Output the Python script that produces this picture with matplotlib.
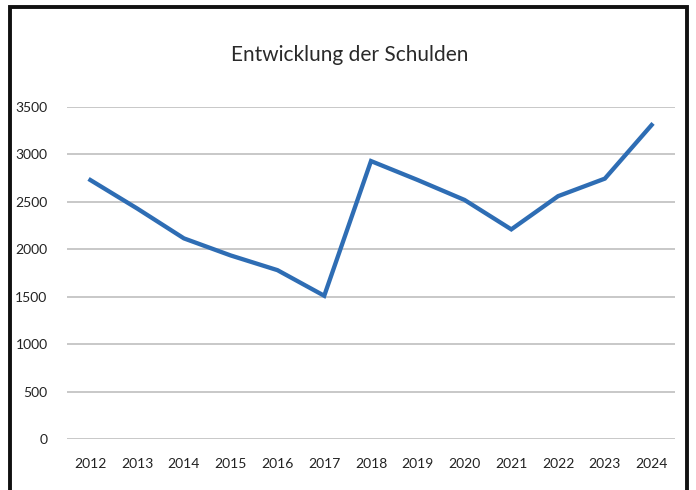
"""Line chart: Entwicklung der Schulden 2012-2024."""

from matplotlib import pyplot as plt
from matplotlib.patches import Rectangle

# Data.
YEARS = [2012, 2013, 2014, 2015, 2016, 2017, 2018,
         2019, 2020, 2021, 2022, 2023, 2024]
DEBT = [2730, 2430, 2115, 1935, 1780, 1510, 2930,
        2730, 2520, 2210, 2560, 2745, 3310]
Y_TICKS = [0, 500, 1000, 1500, 2000, 2500, 3000, 3500]
TITLE = "Entwicklung der Schulden"

FONT = ["Lato", "DejaVu Sans"]
LINE_COLOR = "#2e6db4"
GRID_COLOR = "#c4c4c4"

plt.rcParams["font.family"] = FONT

fig = plt.figure(figsize=(6.96, 4.9), dpi=100)
fig.patch.set_facecolor("white")

# Black frame around the chart (bottom edge runs off the picture).
frame = Rectangle((10 / 696, -0.05), 677 / 696, 1.05 - 7 / 490,
                  transform=fig.transFigure, fill=False,
                  edgecolor="#111111", linewidth=2.8, clip_on=False)
fig.patches.append(frame)

ax = fig.add_axes([67 / 696, 1 - 439 / 490, 608 / 696, 332 / 490])
positions = list(range(len(YEARS)))
ax.plot(positions, DEBT, color=LINE_COLOR, linewidth=3.1,
        solid_joinstyle="miter", zorder=3)

ax.set_xlim(-0.5, len(YEARS) - 0.5)
ax.set_ylim(0, 3500)
ax.set_xticks(positions)
ax.set_xticklabels([str(y) for y in YEARS])
ax.set_yticks(Y_TICKS)

ax.grid(axis="y", color=GRID_COLOR, linewidth=1.3)
ax.set_axisbelow(True)
for spine in ax.spines.values():
    spine.set_visible(False)
ax.tick_params(axis="both", length=0, labelsize=10, colors="#222222")
ax.tick_params(axis="x", pad=14)
ax.tick_params(axis="y", pad=14)

fig.text(350 / 696, 1 - 55 / 490, TITLE, ha="center", va="center",
         fontsize=15, color="#2a2a2a")

fig.savefig("out.png", dpi=100)
